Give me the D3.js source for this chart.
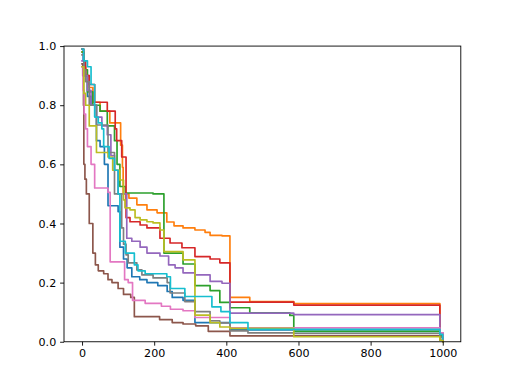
<!DOCTYPE html>
<html><head><meta charset="utf-8">
<script src="https://cdn.jsdelivr.net/npm/d3@7/dist/d3.min.js"></script>
<style>body{margin:0;background:#fff}svg{display:block}text{font-family:"DejaVu Sans",sans-serif}</style>
</head><body><svg id="c" width="512" height="384"></svg>
<script>
const xTicks = [0, 200, 400, 600, 800, 1000];
const yTicks = [0.0, 0.2, 0.4, 0.6, 0.8, 1.0];
const colors = ["#1f77b4","#ff7f0e","#2ca02c","#d62728","#9467bd","#8c564b","#e377c2","#7f7f7f","#bcbd22","#17becf"];

// step series: [time, value] (value holds until next time)
const s0 = [[0,0.99],[3,0.95],[8,0.9],[15,0.83],[25,0.8],[40,0.68],[50,0.66],[62,0.6],[72,0.46],[100,0.44],[105,0.32],[115,0.28],[125,0.25],[138,0.22],[160,0.21],[180,0.2],[210,0.19],[236,0.17],[250,0.15],[280,0.14],[313,0.065],[410,0.04],[587,0.035],[992,0.02],[1000,0.005]];
const s1 = [[0,0.98],[5,0.93],[10,0.9],[20,0.86],[30,0.81],[50,0.78],[77,0.74],[107,0.665],[112,0.59],[114,0.5],[130,0.486],[152,0.463],[180,0.446],[208,0.436],[235,0.405],[255,0.392],[280,0.385],[313,0.378],[341,0.37],[355,0.36],[388,0.358],[410,0.15],[465,0.136],[587,0.129],[992,0.02],[1000,0.01]];
const s2 = [[0,0.98],[5,0.92],[15,0.845],[30,0.8],[50,0.78],[70,0.73],[90,0.68],[97,0.6],[105,0.525],[120,0.503],[197,0.5],[227,0.3],[280,0.263],[313,0.19],[355,0.173],[382,0.133],[410,0.115],[465,0.098],[576,0.089],[587,0.035],[992,0.02],[1000,0.005]];
const s3 = [[0,0.99],[5,0.95],[10,0.9],[20,0.87],[35,0.81],[70,0.78],[92,0.72],[96,0.68],[110,0.625],[122,0.42],[133,0.406],[161,0.395],[180,0.385],[216,0.35],[244,0.334],[277,0.318],[313,0.288],[355,0.28],[382,0.267],[410,0.134],[587,0.124],[992,0.03],[1000,0.01]];
const s4 = [[0,0.95],[5,0.9],[15,0.85],[25,0.8],[40,0.76],[55,0.73],[70,0.7],[80,0.63],[90,0.58],[100,0.5],[124,0.35],[138,0.34],[161,0.32],[180,0.3],[216,0.29],[240,0.26],[258,0.25],[280,0.233],[313,0.226],[355,0.204],[388,0.198],[410,0.097],[587,0.092],[992,0.03],[1000,0.01]];
const s5 = [[0,0.94],[2,0.9],[4,0.8],[5,0.6],[8,0.55],[12,0.5],[20,0.4],[30,0.3],[37,0.26],[45,0.24],[60,0.23],[72,0.21],[83,0.2],[100,0.18],[115,0.16],[135,0.15],[145,0.085],[215,0.075],[250,0.065],[280,0.06],[315,0.054],[350,0.035],[410,0.02],[992,0.005],[1000,0.0]];
const s6 = [[0,0.93],[3,0.85],[6,0.77],[10,0.72],[15,0.66],[25,0.6],[35,0.52],[72,0.505],[78,0.27],[118,0.21],[128,0.2],[140,0.14],[175,0.13],[220,0.12],[245,0.11],[280,0.105],[313,0.082],[410,0.047],[992,0.03],[1000,0.01]];
const s7 = [[0,0.97],[5,0.92],[10,0.88],[20,0.8],[40,0.733],[72,0.64],[90,0.5],[110,0.385],[115,0.33],[122,0.294],[128,0.267],[152,0.243],[166,0.226],[197,0.216],[236,0.2],[244,0.165],[285,0.136],[313,0.102],[355,0.071],[382,0.064],[410,0.037],[460,0.03],[587,0.028],[992,0.015],[1000,0.005]];
const s8 = [[0,0.93],[5,0.84],[10,0.8],[20,0.73],[40,0.64],[72,0.625],[85,0.58],[105,0.547],[115,0.48],[119,0.453],[133,0.446],[147,0.42],[161,0.412],[180,0.406],[197,0.402],[216,0.378],[227,0.305],[280,0.277],[313,0.09],[355,0.065],[382,0.05],[410,0.045],[587,0.017],[992,0.005],[1000,0.0]];
const s9 = [[0,0.99],[5,0.95],[15,0.93],[25,0.87],[35,0.76],[45,0.74],[55,0.72],[60,0.66],[75,0.62],[90,0.58],[100,0.5],[105,0.34],[120,0.3],[145,0.26],[155,0.24],[175,0.23],[235,0.22],[245,0.18],[285,0.153],[360,0.118],[385,0.102],[410,0.065],[460,0.042],[992,0.025],[1000,0.01]];
const allSeries = [s0,s1,s2,s3,s4,s5,s6,s7,s8,s9];

const svg = d3.select("#c");
const L = 64, R = 460.8, T = 46.08, B = 341.76;
const x = d3.scaleLinear().domain([-50, 1050]).range([L, R]);
const y = d3.scaleLinear().domain([0, 1]).range([B, T]);

const line = d3.line().x(d => x(d[0])).y(d => y(d[1])).curve(d3.curveStepAfter);
const g = svg.append("g");
allSeries.forEach((s, i) => {
  g.append("path").attr("d", line(s)).attr("fill", "none")
    .attr("stroke", colors[i]).attr("stroke-width", 1.67)
    .attr("stroke-linejoin", "round").attr("stroke-linecap", "square");
});

const fs = "11.1px";
const xa = svg.append("g").attr("transform", `translate(0,${B})`)
  .call(d3.axisBottom(x).tickValues(xTicks).tickFormat(d3.format("d")).tickSize(3.9).tickPadding(3.9));
const ya = svg.append("g").attr("transform", `translate(${L},0)`)
  .call(d3.axisLeft(y).tickValues(yTicks).tickFormat(d3.format(".1f")).tickSize(3.9).tickPadding(3.9));
[xa, ya].forEach(a => {
  a.select(".domain").remove();
  a.selectAll("line").attr("stroke", "#000").attr("stroke-width", 0.9);
  a.selectAll("text").attr("fill", "#000").style("font-size", fs).style("font-family", "DejaVu Sans");
});
svg.append("rect").attr("x", L).attr("y", T).attr("width", R - L).attr("height", B - T)
  .attr("fill", "none").attr("stroke", "#000").attr("stroke-width", 0.9);
</script></body></html>
